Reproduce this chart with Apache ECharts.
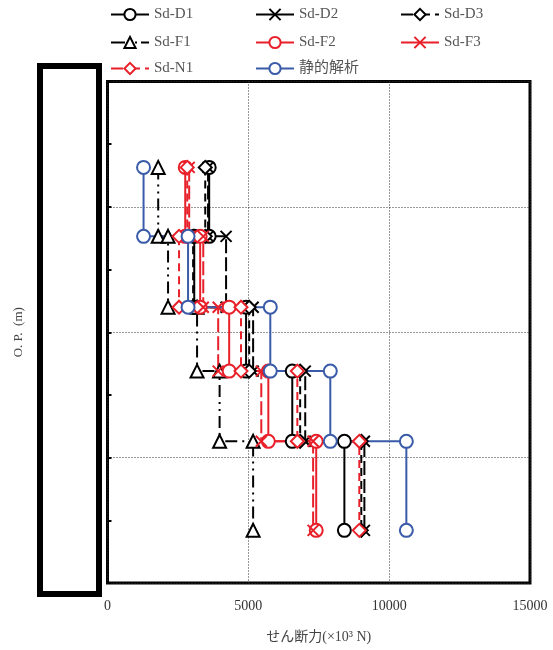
<!DOCTYPE html>
<html>
<head>
<meta charset="utf-8">
<script src="https://cdn.jsdelivr.net/npm/echarts@6/dist/echarts.min.js"></script>
<style>
  html, body { margin: 0; padding: 0; background: #fff; }
  #chart { width: 553px; height: 650px; }
</style>
</head>
<body>
<div id="chart"></div>
<script>
"use strict";

// O.P. (m) of the layer boundaries, top → bottom
const LEVELS = [3.15, -2.35, -8.0, -13.1, -18.7, -25.8];

// shear force per layer (×10^3 N), one value per segment between two levels
const SD_D1 = [3610, 3080, 4920, 6560, 8410];
const SD_D2 = [3570, 4210, 5170, 7020, 9120];
const SD_D3 = [3470, 3040, 5030, 6840, 9010];
const SD_F1 = [1800, 2150, 3180, 3980, 5170];
const SD_F2 = [2760, 3290, 4320, 5710, 7410];
const SD_F3 = [2900, 3400, 3930, 5460, 7300];
const SD_N1 = [2830, 2540, 4740, 6740, 8940];
const STATIC = [1280, 2860, 5780, 7910, 10610];

const X_TICKS = [0, 5000, 10000, 15000];

const BLACK = "#000", RED = "#e8202a", BLUE = "#3a5ba8";
const CROSS = "path://M0,0L10,10M10,0L0,10";
const SERIF = "'Liberation Serif', 'DejaVu Serif', 'Noto Sans CJK JP', serif";

// 層ごとの一定値 → 階段状の点列
function steps(vals) {
  const pts = [];
  vals.forEach((v, i) => { pts.push([v, LEVELS[i]], [v, LEVELS[i + 1]]); });
  return pts;
}

const SERIES = [
  { name: "Sd-D1", data: SD_D1, color: BLACK, symbol: "circle", dash: "solid" },
  { name: "Sd-D2", data: SD_D2, color: BLACK, symbol: CROSS, dash: [14, 4], legendDash: "solid" },
  { name: "Sd-D3", data: SD_D3, color: BLACK, symbol: "diamond", dash: [8, 5], legendDash: [12, 5] },
  { name: "Sd-F1", data: SD_F1, color: BLACK, symbol: "triangle", dash: [12, 5, 2, 5, 2, 5], legendDash: [14, 4, 2, 4, 2, 4] },
  { name: "Sd-F2", data: SD_F2, color: RED, symbol: "circle", dash: "solid" },
  { name: "Sd-F3", data: SD_F3, color: RED, symbol: CROSS, dash: [14, 4], legendDash: "solid" },
  { name: "Sd-N1", data: SD_N1, color: RED, symbol: "diamond", dash: [8, 5], legendDash: [12, 5] },
  { name: "静的解析", data: STATIC, color: BLUE, symbol: "circle", dash: "solid" },
];

// legend slots: [left, top]
const LEGEND_POS = [
  [110, 7], [255, 7], [400, 7],
  [110, 35], [255, 35], [400, 35],
  [110, 61], [255, 61],
];

const series = SERIES.map(s => ({
  name: s.name,
  type: "line",
  data: steps(s.data),
  symbol: s.symbol,
  symbolSize: s.symbol === CROSS ? 11 : 13,
  showAllSymbol: true,
  lineStyle: { color: s.color, width: 2, type: s.dash },
  itemStyle: { color: "#fff", borderColor: s.color, borderWidth: 2 },
  emphasis: { disabled: true },
  animation: false,
}));

const legends = SERIES.map((s, i) => ({
  data: [s.name],
  left: LEGEND_POS[i][0],
  top: LEGEND_POS[i][1],
  padding: 0,
  itemWidth: 38,
  itemHeight: 14,
  itemGap: 0,
  selectedMode: false,
  lineStyle: { color: s.color, width: 2, type: s.legendDash || s.dash },
  textStyle: { fontFamily: SERIF, fontSize: 15, color: "#555" },
}));

const chart = echarts.init(document.getElementById("chart"));
chart.setOption({
  animation: false,
  legend: legends,
  grid: {
    left: 107.5, right: 23, top: 81.5, bottom: 67,
    show: true, borderColor: "#000", borderWidth: 3, backgroundColor: "transparent",
  },
  xAxis: {
    type: "value", min: X_TICKS[0], max: X_TICKS[X_TICKS.length - 1], interval: 5000,
    name: "せん断力(×10³ N)", nameLocation: "middle", nameGap: 47,
    nameTextStyle: { fontFamily: SERIF, fontSize: 14, color: "#444" },
    axisLine: { show: false }, axisTick: { show: false },
    axisLabel: { fontFamily: SERIF, fontSize: 14, color: "#333", margin: 16, formatter: v => String(v) },
    splitLine: { show: true, lineStyle: { type: [1, 2], color: "#333", width: 1 } },
  },
  yAxis: {
    type: "value", min: -30, max: 10, interval: 10,
    name: "O. P.  (m)", nameLocation: "middle", nameGap: 82, nameRotate: 90,
    nameTextStyle: { fontFamily: SERIF, fontSize: 13, color: "#444" },
    axisLine: { show: false },
    axisTick: { show: true, inside: true, length: 4, lineStyle: { color: "#000", width: 2 } },
    minorTick: { show: true, splitNumber: 2, length: 4, lineStyle: { color: "#000", width: 2 } },
    axisLabel: { show: false },
    splitLine: { show: true, lineStyle: { type: [1, 2], color: "#333", width: 1 } },
  },
  graphic: [{
    type: "rect", z: 100,
    shape: { x: 40, y: 66, width: 59, height: 528 },
    style: { fill: "#fff", stroke: "#000", lineWidth: 6 },
  }],
  series: series,
});
</script>
</body>
</html>
